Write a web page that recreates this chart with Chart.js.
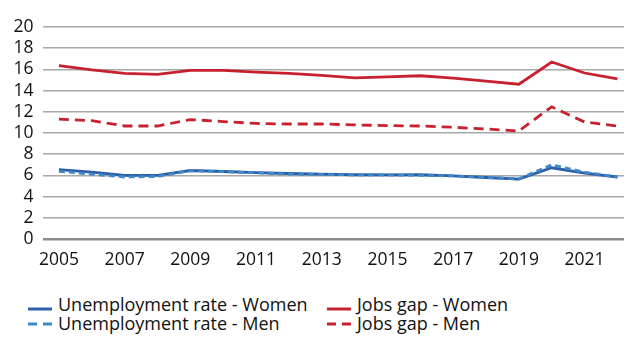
<!DOCTYPE html>
<html>
<head>
<meta charset="utf-8">
<script src="https://cdn.jsdelivr.net/npm/chart.js@4/dist/chart.umd.min.js"></script>
<style>
  html, body { margin: 0; padding: 0; background: #fff; }
  body { width: 624px; height: 344px; position: relative; overflow: hidden; font-family: "Open Sans", sans-serif; }
  #wrap { position: absolute; left: 0; top: 0; width: 624px; height: 282px; }
  #legend { position: absolute; left: 0; top: 294px; width: 624px; }
  .item { position: absolute; height: 20px; font-size: 18px; line-height: 20px; color: #111; white-space: nowrap; }
  .item canvas { position: absolute; left: 0; }
  .item span { position: absolute; left: 30px; top: 0; }
</style>
</head>
<body>
<div id="wrap"><canvas id="c"></canvas></div>
<div id="legend"></div>
<script>
const years = [2005,2006,2007,2008,2009,2010,2011,2012,2013,2014,2015,2016,2017,2018,2019,2020,2021,2022];
const unempWomen = [6.55,6.3,6.0,6.0,6.46,6.37,6.27,6.18,6.12,6.06,6.05,6.06,5.96,5.8,5.65,6.72,6.21,5.85];
const unempMen   = [6.38,6.12,5.85,5.9,6.45,6.35,6.25,6.12,6.1,6.05,6.05,6.0,5.95,5.8,5.68,7.0,6.3,5.85];
const gapWomen   = [16.35,15.95,15.63,15.53,15.9,15.9,15.75,15.63,15.44,15.2,15.3,15.4,15.18,14.9,14.6,16.7,15.66,15.1];
const gapMen     = [11.3,11.17,10.66,10.66,11.27,11.08,10.9,10.85,10.85,10.76,10.7,10.66,10.54,10.38,10.19,12.47,11.04,10.66];
const xTicks = [2005,2007,2009,2011,2013,2015,2017,2019,2021];
const yTicks = [0,2,4,6,8,10,12,14,16,18,20];
const seriesNames = ["Unemployment rate - Women","Jobs gap - Women","Unemployment rate - Men","Jobs gap - Men"];

const FONT = '"Open Sans", sans-serif';
const cBlue = '#2d5ea8', cBlueL = '#3d88c8', cRed = '#c8202f';

const pts = arr => arr.map((v,i) => ({x: years[i], y: v}));
const datasets = [
  {label: seriesNames[2], data: pts(unempMen), borderColor: cBlueL, borderDash: [6,4], borderWidth: 2.8},
  {label: seriesNames[0], data: pts(unempWomen), borderColor: cBlue, borderWidth: 2.8},
  {label: seriesNames[3], data: pts(gapMen), borderColor: cRed, borderDash: [10,6], borderWidth: 2.8},
  {label: seriesNames[1], data: pts(gapWomen), borderColor: cRed, borderWidth: 2.8},
].map(d => Object.assign({pointRadius: 0, pointHoverRadius: 0, tension: 0, fill: false, borderCapStyle: 'butt'}, d));

new Chart(document.getElementById('c'), {
  type: 'line',
  data: {datasets},
  options: {
    responsive: true,
    maintainAspectRatio: false,
    animation: false,
    events: [],
    layout: {padding: {top: 27, right: 0, bottom: 0, left: 0}},
    plugins: {legend: {display: false}, tooltip: {enabled: false}},
    scales: {
      x: {
        type: 'linear', min: 2004.5, max: 2022.2,
        afterBuildTicks: s => { s.ticks = xTicks.map(v => ({value: v})); },
        grid: {display: false, drawTicks: false},
        border: {display: false},
        ticks: {padding: 11, color: '#111', font: {family: FONT, size: 17.5}, maxRotation: 0, autoSkip: false,
                callback: v => String(v)}
      },
      y: {
        min: 0, max: 20,
        afterBuildTicks: s => { s.ticks = yTicks.map(v => ({value: v})); },
        afterFit: s => { s.width = 42.5; },
        grid: {drawTicks: false, color: c => c.tick && c.tick.value === 0 ? '#8c8c8c' : '#a8a8a8',
               lineWidth: c => c.tick && c.tick.value === 0 ? 2.6 : 1.6},
        border: {display: false},
        ticks: {padding: 9, autoSkip: false, color: '#111', font: {family: FONT, size: 17.5}}
      }
    }
  }
});

// HTML legend (two aligned columns)
const legendItems = [
  {name: seriesNames[0], color: cBlue, dash: [], x: 28, y: 0, ly: 15},
  {name: seriesNames[1], color: cRed, dash: [], x: 327, y: 0, ly: 15},
  {name: seriesNames[2], color: cBlueL, dash: [9,6], x: 28, y: 19, ly: 11},
  {name: seriesNames[3], color: cRed, dash: [9,6], x: 327, y: 19, ly: 11},
];
const lg = document.getElementById('legend');
legendItems.forEach(it => {
  const d = document.createElement('div');
  d.className = 'item';
  d.style.left = it.x + 'px';
  d.style.top = it.y + 'px';
  const cv = document.createElement('canvas');
  cv.width = 26; cv.height = 6;
  cv.style.top = (it.ly - 3) + 'px';
  const ctx = cv.getContext('2d');
  ctx.strokeStyle = it.color; ctx.lineWidth = 3; ctx.setLineDash(it.dash);
  ctx.beginPath(); ctx.moveTo(0, 3); ctx.lineTo(24, 3); ctx.stroke();
  d.appendChild(cv);
  const sp = document.createElement('span');
  sp.textContent = it.name;
  d.appendChild(sp);
  lg.appendChild(d);
});
</script>
</body>
</html>
